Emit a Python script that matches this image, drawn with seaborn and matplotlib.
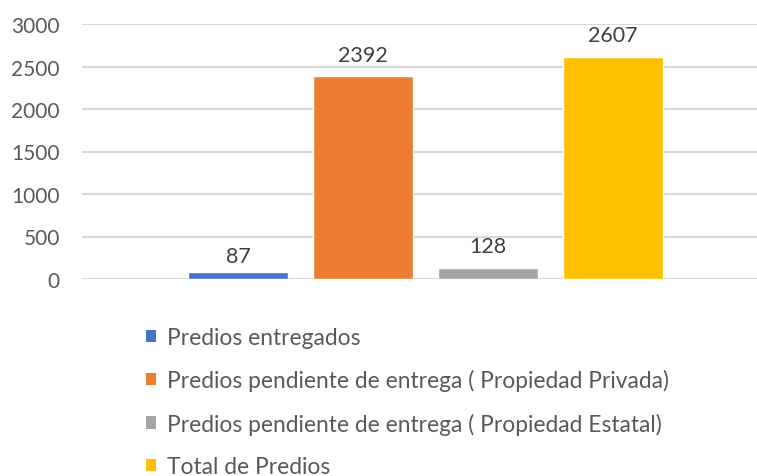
import matplotlib
matplotlib.use("Agg")
import matplotlib.pyplot as plt
import seaborn as sns
import pandas as pd
from matplotlib.patches import Patch

series = [
    "Predios entregados",
    "Predios pendiente de entrega ( Propiedad Privada)",
    "Predios pendiente de entrega ( Propiedad Estatal)",
    "Total de Predios",
]
values = [87, 2392, 128, 2607]
colors = ["#4472C4", "#ED7D31", "#A5A5A5", "#FFC000"]
category = ["Predios"]
yticks = [0, 500, 1000, 1500, 2000, 2500, 3000]

df = pd.DataFrame({"cat": category * len(series), "serie": series, "valor": values})

sns.set_theme(style="white")
plt.rcParams["font.family"] = ["Lato", "DejaVu Sans"]

W, H = 757, 477
fig = plt.figure(figsize=(W / 100, H / 100), dpi=100)
ax = fig.add_axes([82 / W, (H - 280) / H, (757 - 82) / W, 255 / H])

sns.barplot(data=df, x="cat", y="valor", hue="serie", palette=colors,
            width=0.8, gap=0.2, ax=ax, legend=False, saturation=1)

ax.set_ylim(0, 3000)
ax.set_xlim(-0.5496, 0.5304)
ax.set_yticks(yticks)
ax.set_yticklabels([str(t) for t in yticks])
ax.yaxis.grid(True, color="#d9d9d9", linewidth=1.5)
ax.set_axisbelow(True)
for s in ax.spines.values():
    s.set_visible(False)
ax.set_xticks([])
ax.set_xlabel("")
ax.set_ylabel("")
ax.tick_params(axis="y", length=0, pad=16, labelsize=15, labelcolor="#595959")

pads = [4, 8, 9, 9]
for cont, p in zip(ax.containers, pads):
    ax.bar_label(cont, padding=p, fontsize=15.5, color="#404040")

handles = [Patch(facecolor=c, edgecolor="none") for c in colors]
leg = fig.legend(handles, series, loc="upper left",
                 bbox_to_anchor=(137 / W, (H - 319) / H),
                 frameon=False, fontsize=16.4, labelcolor="#595959",
                 handlelength=0.45, handleheight=0.45, handletextpad=0.45,
                 labelspacing=0.93, borderaxespad=0)

fig.savefig("out.png", dpi=100)
